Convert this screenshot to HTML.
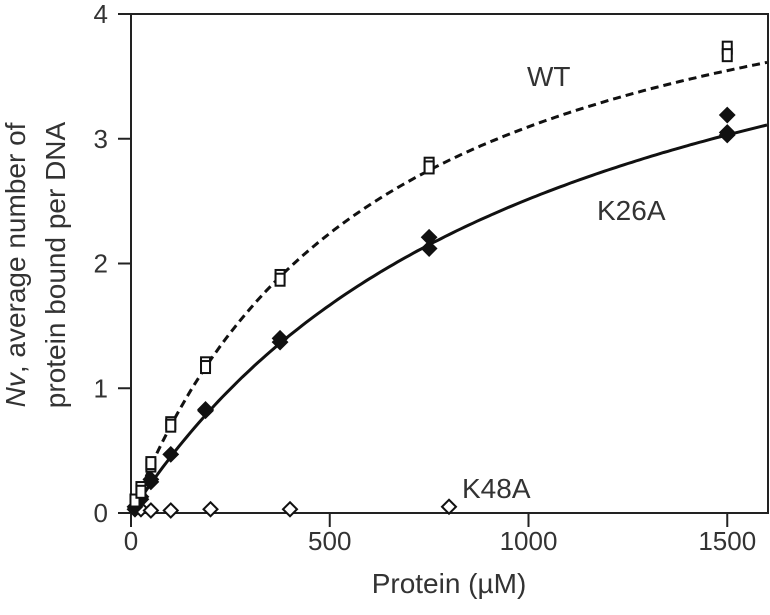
<!DOCTYPE html>
<html><head><meta charset="utf-8"><style>
body{margin:0;background:#fff}
svg{display:block;font-family:"Liberation Sans",Arial,sans-serif}
</style></head><body>
<svg id="chart" width="770" height="615"></svg>
<script>
const xTicks=[0,500,1000,1500];
const yTicks=[0,1,2,3,4];
const wtX=[10,25,25,50,50,100,100,187.5,187.5,375,375,750,750,1500,1500];
const wtY=[0.1,0.2,0.17,0.38,0.4,0.72,0.7,1.2,1.17,1.9,1.87,2.8,2.77,3.73,3.67];
const k26X=[10,25,25,50,50,100,187.5,187.5,375,375,750,750,1500,1500,1500];
const k26Y=[0.05,0.13,0.11,0.27,0.25,0.47,0.83,0.82,1.4,1.37,2.21,2.12,3.19,3.05,3.03];
const k48X=[10,25,50,100,200,400,800];
const k48Y=[0.03,0.03,0.02,0.02,0.03,0.03,0.05];
const wtFit=[5.0,615];
const k26Fit=[5.13,1039];
const NS='http://www.w3.org/2000/svg';
const svg=document.getElementById('chart');
const X0=131,XS=0.3975,Y0=513,YS=124.75;
const sx=v=>X0+v*XS, sy=v=>Y0-v*YS;
function mk(t,a,p){const e=document.createElementNS(NS,t);for(const k in a)e.setAttribute(k,a[k]);(p||svg).appendChild(e);return e;}
const fr=mk('rect',{x:X0,y:sy(4),width:768-X0,height:Y0-sy(4),fill:'none',stroke:'#222','stroke-width':2});


xTicks.forEach(v=>{
 const l=mk('line',{x1:sx(v),x2:sx(v),y1:Y0,y2:Y0+14,stroke:'#222','stroke-width':2});
 
 
 const t=mk('text',{x:sx(v),y:550,'text-anchor':'middle','font-size':26,fill:'#333'});t.textContent=v;
 
 
});
yTicks.forEach(v=>{
 const l=mk('line',{x1:X0-13,x2:X0,y1:sy(v),y2:sy(v),stroke:'#222','stroke-width':2});
 
 
 const t=mk('text',{x:108,y:sy(v)+9,'text-anchor':'end','font-size':26,fill:'#333'});t.textContent=v;
 
 
});
function curve(p,dash,name){
 let d='';for(let x=0;x<=1600;x+=10){const y=p[0]*x/(p[1]+x);d+=(x?'L':'M')+sx(x).toFixed(1)+','+sy(y).toFixed(1);}
 const e=mk('path',{d:d,fill:'none',stroke:'#111','stroke-width':3,'stroke-dasharray':dash||''});
 
 
}
curve(wtFit,'8,5','wt-fit-curve');
curve(k26Fit,'','k26a-fit-curve');
function diamond(x,y,fill,name){
 const cx=sx(x),cy=sy(y),r=7;
 const e=mk('polygon',{points:`${cx},${cy-r} ${cx+r},${cy} ${cx},${cy+r} ${cx-r},${cy}`,fill:fill,stroke:'#111','stroke-width':2});
 
 
}
k48X.forEach((x,i)=>diamond(x,k48Y[i],'#fff','k48a-point'));
k26X.forEach((x,i)=>diamond(x,k26Y[i],'#111','k26a-point'));
wtX.forEach((x,i)=>{
 const e=mk('rect',{x:sx(x)-4.5,y:sy(wtY[i])-6,width:9,height:12,fill:'#fff',stroke:'#111','stroke-width':2});
 
 
});
function label(txt,x,y,name,extra){const t=mk('text',Object.assign({x:x,y:y,'font-size':28,fill:'#333'},extra||{}));t.textContent=txt;
 
 return t;}
label('WT',527,86,'wt-label');
label('K26A',597,220,'k26a-label');
label('K48A',462,498,'k48a-label');
label('Protein (µM)',449,593,'x-axis-title',{'text-anchor':'middle'});
const yt=mk('text',{transform:'translate(25,265) rotate(-90)','text-anchor':'middle','font-size':28,fill:'#333'});


const s1=mk('tspan',{x:0,y:0},yt);s1.innerHTML='<tspan font-style="italic">Nv</tspan>, average number of';
const s2=mk('tspan',{x:0,y:40},yt);s2.textContent='protein bound per DNA';
</script>
</body></html>
